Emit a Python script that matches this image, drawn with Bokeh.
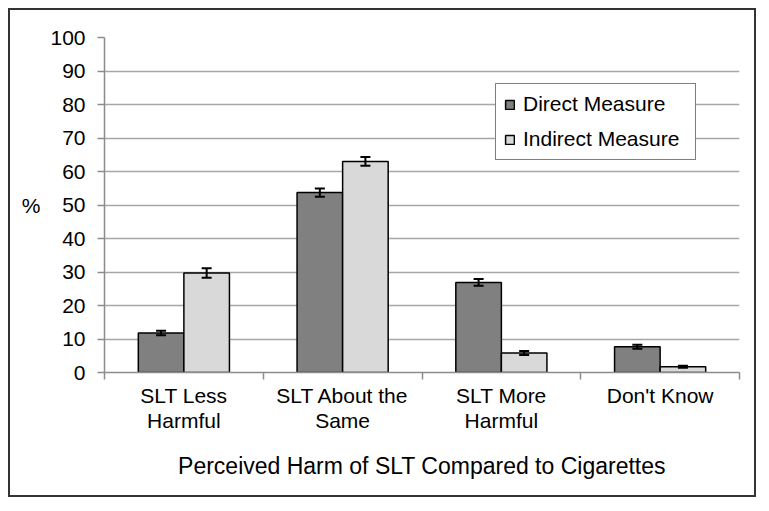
from bokeh.plotting import figure
from bokeh.models import (Range1d, FixedTicker, ColumnDataSource, Whisker, TeeHead,
                          Legend, LegendItem)
from bokeh.embed import file_html
from bokeh.resources import INLINE

categories = ["SLT Less\nHarmful", "SLT About the\nSame", "SLT More\nHarmful", "Don't Know"]
direct = [11.8, 53.7, 26.9, 7.7]
direct_err = [0.7, 1.2, 1.0, 0.6]
indirect = [29.7, 63.0, 5.8, 1.7]
indirect_err = [1.4, 1.3, 0.6, 0.3]
y_ticks = [0, 10, 20, 30, 40, 50, 60, 70, 80, 90, 100]

FONT = "Liberation Sans"
BAR_W = 0.287

centers = [i + 0.5 for i in range(len(categories))]
x_dir = [c - BAR_W / 2 for c in centers]
x_ind = [c + BAR_W / 2 for c in centers]

src_d = ColumnDataSource(dict(x=x_dir, top=direct,
                              lo=[v - e for v, e in zip(direct, direct_err)],
                              hi=[v + e for v, e in zip(direct, direct_err)]))
src_i = ColumnDataSource(dict(x=x_ind, top=indirect,
                              lo=[v - e for v, e in zip(indirect, indirect_err)],
                              hi=[v + e for v, e in zip(indirect, indirect_err)]))

p = figure(width=748, height=489, output_backend="svg", toolbar_location=None,
           x_range=Range1d(0, len(categories)), y_range=Range1d(0, 100),
           min_border_left=94, min_border_right=19, min_border_top=27, min_border_bottom=127,
           styles={"border": "2px solid #333333", "margin-left": "8px", "margin-top": "8px"})
p.outline_line_color = None
p.background_fill_color = "white"
p.border_fill_color = "white"

r_d = p.vbar(x="x", top="top", bottom=0, width=BAR_W, source=src_d,
             fill_color="#808080", line_color="black", line_width=1.5)
r_i = p.vbar(x="x", top="top", bottom=0, width=BAR_W, source=src_i,
             fill_color="#d9d9d9", line_color="black", line_width=1.5)

for src in (src_d, src_i):
    w = Whisker(base="x", lower="lo", upper="hi", source=src, line_color="black", line_width=2,
                level="annotation",
                upper_head=TeeHead(size=10, line_color="black", line_width=2),
                lower_head=TeeHead(size=10, line_color="black", line_width=2))
    p.add_layout(w)

# Y axis
p.yaxis.ticker = FixedTicker(ticks=y_ticks)
p.yaxis.axis_line_color = "#8c8c8c"
p.yaxis.axis_line_width = 1.5
p.yaxis.major_tick_line_color = "#8c8c8c"
p.yaxis.major_tick_line_width = 1.5
p.yaxis.major_tick_out = 7
p.yaxis.major_tick_in = 0
p.yaxis.minor_tick_line_color = None
p.yaxis.major_label_text_font = FONT
p.yaxis.major_label_text_font_size = "21px"
p.yaxis.major_label_text_color = "black"
p.yaxis.major_label_standoff = 12
p.yaxis.axis_label = "%"
p.yaxis.axis_label_orientation = "horizontal"
p.yaxis.axis_label_text_font = FONT
p.yaxis.axis_label_text_font_size = "21px"
p.yaxis.axis_label_text_font_style = "normal"
p.yaxis.axis_label_text_color = "black"
p.yaxis.axis_label_standoff = 7

# X axis
p.xaxis.ticker = FixedTicker(ticks=centers, minor_ticks=list(range(len(categories) + 1)))
p.xaxis.major_label_overrides = {c: lab for c, lab in zip(centers, categories)}
p.xaxis.axis_line_color = "#8c8c8c"
p.xaxis.axis_line_width = 1.5
p.xaxis.major_tick_line_color = None
p.xaxis.major_tick_out = 0
p.xaxis.major_tick_in = 0
p.xaxis.minor_tick_line_color = "#8c8c8c"
p.xaxis.minor_tick_line_width = 1.5
p.xaxis.minor_tick_out = 7
p.xaxis.minor_tick_in = 0
p.xaxis.major_label_text_font = FONT
p.xaxis.major_label_text_font_size = "21px"
p.xaxis.major_label_text_color = "black"
p.xaxis.major_label_text_line_height = 1.1
p.xaxis.major_label_standoff = 4
p.xaxis.axis_label = "Perceived Harm of SLT Compared to Cigarettes"
p.xaxis.axis_label_text_font = FONT
p.xaxis.axis_label_text_font_size = "23px"
p.xaxis.axis_label_text_font_style = "normal"
p.xaxis.axis_label_text_color = "black"
p.xaxis.axis_label_standoff = 18

p.xgrid.grid_line_color = None
p.ygrid.ticker = FixedTicker(ticks=y_ticks)
p.ygrid.grid_line_color = "#a6a6a6"
p.ygrid.grid_line_width = 1.5

legend = Legend(items=[LegendItem(label="Direct Measure", renderers=[r_d]),
                       LegendItem(label="Indirect Measure", renderers=[r_i])],
                location=(391, 212))
legend.border_line_color = "black"
legend.border_line_width = 1.5
legend.background_fill_color = "white"
legend.background_fill_alpha = 1.0
legend.label_text_font = FONT
legend.label_text_font_size = "21px"
legend.label_text_color = "black"
legend.glyph_width = 11
legend.glyph_height = 11
legend.label_standoff = 8
legend.padding = 8
legend.spacing = 11
legend.margin = 0
legend.label_width = 164
p.add_layout(legend)

open("out.html", "w").write(file_html(p, INLINE))
